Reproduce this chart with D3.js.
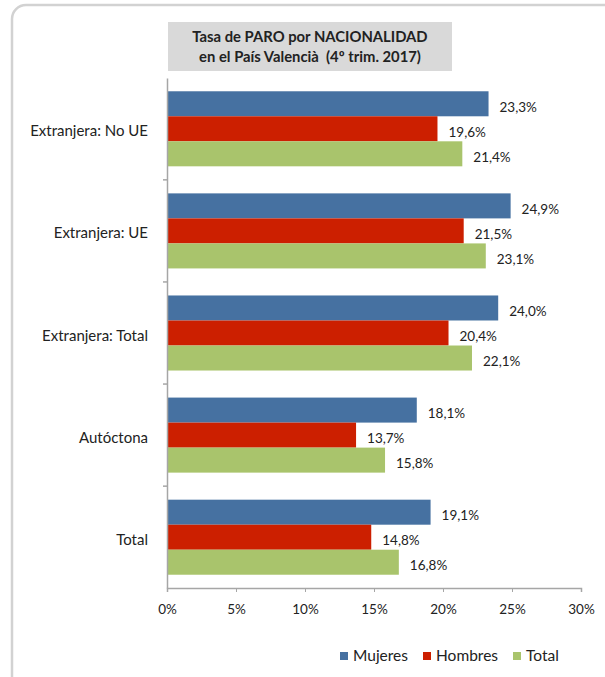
<!DOCTYPE html>
<html>
<head>
<meta charset="utf-8">
<script src="https://cdn.jsdelivr.net/npm/d3@7"></script>
<style>
  html, body { margin: 0; padding: 0; background: #fff; }
  svg { display: block; font-family: Lato, "Open Sans", sans-serif; }
</style>
</head>
<body>
<svg id="chart" width="605" height="677"></svg>
<script>
// Unemployment rate by nationality, Valencian Country, Q4 2017
const categories = ["Extranjera: No UE", "Extranjera: UE", "Extranjera: Total", "Autóctona", "Total"];
const seriesNames = ["Mujeres", "Hombres", "Total"];
const mujeres = [23.3, 24.9, 24.0, 18.1, 19.1];
const hombres = [19.6, 21.5, 20.4, 13.7, 14.8];
const total   = [21.4, 23.1, 22.1, 15.8, 16.8];
const xTicks  = [0, 5, 10, 15, 20, 25, 30];
const titleLines = ["Tasa de PARO por NACIONALIDAD", "en el País Valencià  (4º trim. 2017)"];

const seriesValues = [mujeres, hombres, total];
const colors = ["#4671a1", "#cc1f00", "#a9c46c"];

const svg = d3.select("#chart");

// outer frame with rounded corners
svg.append("rect")
  .attr("x", 12).attr("y", 5)
  .attr("width", 640).attr("height", 700)
  .attr("rx", 14)
  .attr("fill", "#fff")
  .attr("stroke", "#d2d2d2")
  .attr("stroke-width", 2.5);

const plot = { left: 167, right: 581, top: 78, bottom: 588 };

const x = d3.scaleLinear().domain([0, 30]).range([plot.left, plot.right]);
const y = d3.scaleBand().domain(categories).range([plot.top, plot.bottom]).paddingInner(0.265).paddingOuter(0.13);
const ySub = d3.scaleBand().domain(seriesNames).range([0, y.bandwidth()]);

const fmt = v => d3.format(".1f")(v).replace(".", ",") + "%";

// bars
seriesNames.forEach((s, si) => {
  const g = svg.append("g");
  g.selectAll("rect")
    .data(categories)
    .join("rect")
    .attr("x", x(0))
    .attr("y", c => y(c) + ySub(s))
    .attr("width", (c, i) => x(seriesValues[si][i]) - x(0))
    .attr("height", ySub.bandwidth())
    .attr("fill", colors[si]);
  g.selectAll("text")
    .data(categories)
    .join("text")
    .attr("x", (c, i) => x(seriesValues[si][i]) + 11)
    .attr("y", c => y(c) + ySub(s) + ySub.bandwidth() / 2)
    .attr("dy", "0.6em")
    .attr("font-size", 13.5)
    .attr("fill", "#222")
    .text((c, i) => fmt(seriesValues[si][i]));
});

// x axis
const xAxis = svg.append("g")
  .attr("transform", `translate(0,${plot.bottom})`)
  .call(d3.axisBottom(x).tickValues(xTicks).tickFormat(d => d + "%").tickSize(4).tickPadding(12));
xAxis.select(".domain").attr("stroke", "#a6a6a6").attr("stroke-width", 1.5);
xAxis.selectAll(".tick line").attr("stroke", "#a6a6a6");
xAxis.selectAll("text").attr("font-size", 13.5).attr("fill", "#222").attr("font-family", "Lato, sans-serif");

// y axis
const yAxis = svg.append("g")
  .attr("transform", `translate(${plot.left},0)`)
  .call(d3.axisLeft(y).tickSize(0).tickPadding(19));
yAxis.select(".domain").attr("stroke", "#a6a6a6").attr("stroke-width", 1.5);
yAxis.selectAll("text").attr("font-size", 15).attr("dy", "0.5em").attr("fill", "#222").attr("font-family", "Lato, sans-serif");

// small tick marks between category groups
const half = y.step() * y.paddingInner() / 2;
const boundaries = categories.slice(1).map(c => y(c) - half);
svg.append("g").selectAll("line")
  .data(boundaries)
  .join("line")
  .attr("x1", plot.left - 4).attr("x2", plot.left)
  .attr("y1", d => d).attr("y2", d => d)
  .attr("stroke", "#a6a6a6").attr("stroke-width", 1.5);

// title box
svg.append("rect")
  .attr("x", 168).attr("y", 22)
  .attr("width", 284).attr("height", 49)
  .attr("fill", "#d9d9d9");
svg.append("text")
  .attr("x", 310).attr("y", 42)
  .attr("text-anchor", "middle")
  .style("white-space", "pre")
  .attr("font-size", 14.8).attr("font-weight", "bold").attr("fill", "#222")
  .selectAll("tspan")
  .data(titleLines)
  .join("tspan")
  .attr("x", 310)
  .attr("dy", (d, i) => i === 0 ? 0 : 20)
  .text(d => d);

// legend
const legendX = [340, 423, 513];
const legend = svg.append("g");
seriesNames.forEach((s, i) => {
  legend.append("rect")
    .attr("x", legendX[i]).attr("y", 652)
    .attr("width", 8).attr("height", 8)
    .attr("fill", colors[i]);
  legend.append("text")
    .attr("x", legendX[i] + 13).attr("y", 661)
    .attr("font-size", 15.5).attr("fill", "#222")
    .text(s);
});
</script>
</body>
</html>
